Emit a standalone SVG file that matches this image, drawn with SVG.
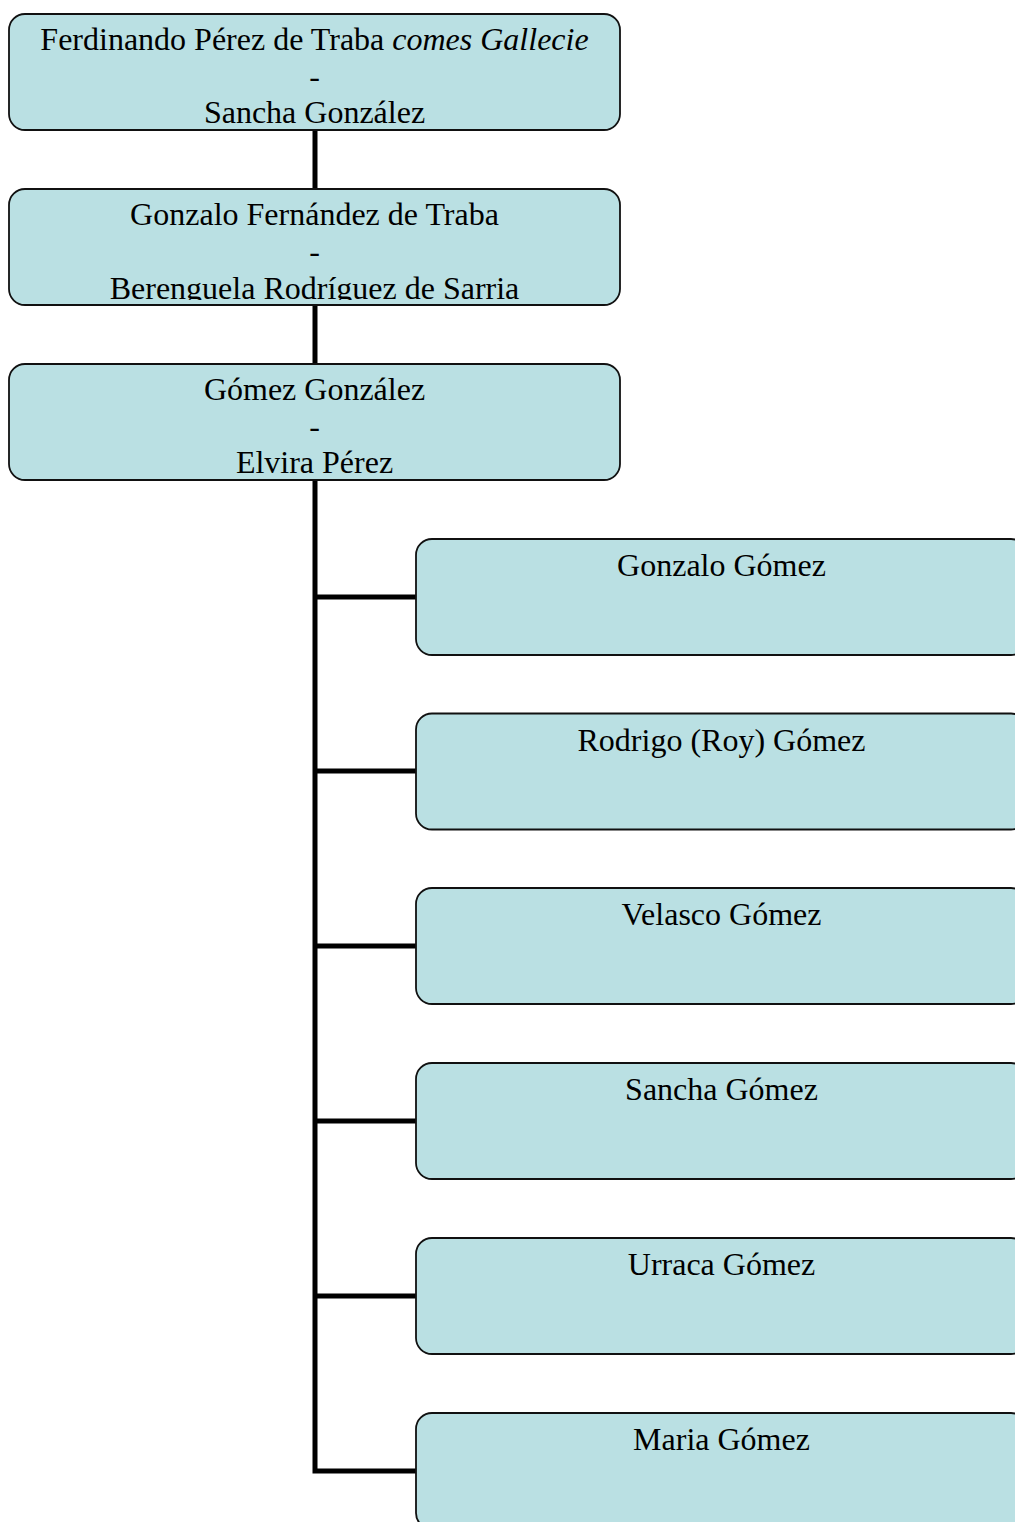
<svg xmlns="http://www.w3.org/2000/svg" width="1015" height="1522" viewBox="0 0 1015 1522">
  <style>
    .box { fill: #bae0e3; stroke: #111; stroke-width: 1.8; }
    .lbl { font-family: "Liberation Serif", "Times New Roman", serif; font-size: 32px; fill: #000; text-anchor: middle; }
    .link { fill: none; stroke: #000; stroke-width: 5; stroke-linejoin: miter; }
  </style>
  <defs>
    <clipPath id="clip-p1"><rect x="9" y="14" width="611" height="111"/></clipPath>
    <clipPath id="clip-p2"><rect x="9" y="189" width="611" height="111"/></clipPath>
    <clipPath id="clip-p3"><rect x="9" y="364" width="611" height="111"/></clipPath>
  </defs>

  <!-- connectors -->
  <g id="connectors">
    <path class="link" d="M315 130 V189"/>
    <path class="link" d="M315 305 V364"/>
    <path class="link" d="M315 480 V1471 H416"/>
    <path class="link" d="M315 597 H416"/>
    <path class="link" d="M315 771 H416"/>
    <path class="link" d="M315 946 H416"/>
    <path class="link" d="M315 1121 H416"/>
    <path class="link" d="M315 1296 H416"/>
  </g>

  <!-- ancestors -->
  <g id="node-ferdinando">
    <rect class="box" x="9" y="14" width="611" height="116" rx="16"/>
    <g clip-path="url(#clip-p1)">
      <text class="lbl" x="314.5" y="50">Ferdinando Pérez de Traba <tspan font-style="italic">comes Gallecie</tspan></text>
      <text class="lbl" x="314.5" y="87">-</text>
      <text class="lbl" x="314.5" y="123">Sancha González</text>
    </g>
  </g>
  <g id="node-gonzalo-fernandez">
    <rect class="box" x="9" y="189" width="611" height="116" rx="16"/>
    <g clip-path="url(#clip-p2)">
      <text class="lbl" x="314.5" y="225">Gonzalo Fernández de Traba</text>
      <text class="lbl" x="314.5" y="262">-</text>
      <text class="lbl" x="314.5" y="298.5">Berenguela Rodríguez de Sarria</text>
    </g>
  </g>
  <g id="node-gomez-gonzalez">
    <rect class="box" x="9" y="364" width="611" height="116" rx="16"/>
    <g clip-path="url(#clip-p3)">
      <text class="lbl" x="314.5" y="400">Gómez González</text>
      <text class="lbl" x="314.5" y="437">-</text>
      <text class="lbl" x="314.5" y="473">Elvira Pérez</text>
    </g>
  </g>

  <!-- children -->
  <g id="node-gonzalo-gomez">
    <rect class="box" x="416" y="539" width="611" height="116" rx="16"/>
    <text class="lbl" x="721.5" y="576">Gonzalo Gómez</text>
  </g>
  <g id="node-rodrigo-gomez">
    <rect class="box" x="416" y="713.5" width="611" height="116" rx="16"/>
    <text class="lbl" x="721.5" y="750.5">Rodrigo (Roy) Gómez</text>
  </g>
  <g id="node-velasco-gomez">
    <rect class="box" x="416" y="888" width="611" height="116" rx="16"/>
    <text class="lbl" x="721.5" y="925">Velasco Gómez</text>
  </g>
  <g id="node-sancha-gomez">
    <rect class="box" x="416" y="1063" width="611" height="116" rx="16"/>
    <text class="lbl" x="721.5" y="1100">Sancha Gómez</text>
  </g>
  <g id="node-urraca-gomez">
    <rect class="box" x="416" y="1238" width="611" height="116" rx="16"/>
    <text class="lbl" x="721.5" y="1275">Urraca Gómez</text>
  </g>
  <g id="node-maria-gomez">
    <rect class="box" x="416" y="1413" width="611" height="116" rx="16"/>
    <text class="lbl" x="721.5" y="1450">Maria Gómez</text>
  </g>
</svg>
